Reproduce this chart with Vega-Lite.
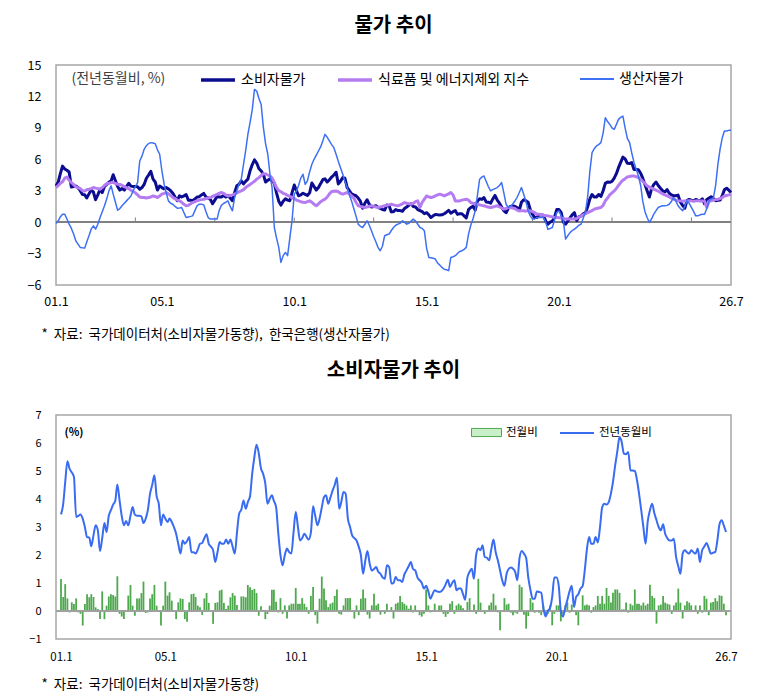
{
  "$schema": "https://vega.github.io/schema/vega-lite/v6.json",
  "background": "white",
  "padding": {"left": 26, "top": 15, "right": 10, "bottom": 5},
  "spacing": 18,
  "resolve": {"scale": {"stroke": "independent"}, "legend": {"stroke": "independent"}},
  "config": {
    "font": "Noto Sans CJK KR",
    "view": {"stroke": "#a6a6a6", "strokeWidth": 1.5},
    "axis": {"grid": false, "ticks": false, "domain": false, "labelColor": "#000", "labelFont": "Noto Sans CJK KR", "titleFont": "Noto Sans CJK KR", "titleColor": "#000", "labelOverlap": false},
    "title": {"fontSize": 20, "fontWeight": "bold", "color": "#000", "anchor": "middle", "font": "Noto Sans CJK KR"},
    "legend": {"padding": 0, "labelColor": "#000", "labelFont": "Noto Sans CJK KR", "labelLimit": 400}
  },
  "datasets": {
    "prices": [
      {"t":"2001-01","cpi":3.45,"core":3.3,"ppi":-0.13,"mom":1.14},
      {"t":"2001-02","cpi":3.83,"core":3.5,"ppi":0.13,"mom":0.5},
      {"t":"2001-03","cpi":4.6,"core":3.7,"ppi":0.5,"mom":0.96},
      {"t":"2001-04","cpi":5.35,"core":3.85,"ppi":0.76,"mom":0.45},
      {"t":"2001-05","cpi":5.08,"core":4.2,"ppi":0.76,"mom":-0.05},
      {"t":"2001-06","cpi":4.95,"core":4.3,"ppi":0.3,"mom":0.31},
      {"t":"2001-07","cpi":4.79,"core":4.0,"ppi":-0.19,"mom":0.25},
      {"t":"2001-08","cpi":3.36,"core":3.78,"ppi":-0.6,"mom":0.45},
      {"t":"2001-09","cpi":3.4,"core":3.6,"ppi":-1.14,"mom":-0.05},
      {"t":"2001-10","cpi":3.45,"core":3.37,"ppi":-1.78,"mom":-0.1},
      {"t":"2001-11","cpi":3.3,"core":3.3,"ppi":-2.1,"mom":-0.52},
      {"t":"2001-12","cpi":3.0,"core":3.2,"ppi":-2.41,"mom":0.25},
      {"t":"2002-01","cpi":2.64,"core":3.0,"ppi":-2.45,"mom":0.6},
      {"t":"2002-02","cpi":2.62,"core":2.98,"ppi":-2.48,"mom":0.49},
      {"t":"2002-03","cpi":2.31,"core":3.1,"ppi":-1.9,"mom":0.6},
      {"t":"2002-04","cpi":2.7,"core":3.14,"ppi":-1.3,"mom":0.5},
      {"t":"2002-05","cpi":3.06,"core":3.2,"ppi":-0.67,"mom":0.13},
      {"t":"2002-06","cpi":2.88,"core":3.3,"ppi":-0.35,"mom":0.07},
      {"t":"2002-07","cpi":2.14,"core":3.25,"ppi":-0.67,"mom":-0.29},
      {"t":"2002-08","cpi":2.6,"core":3.2,"ppi":-0.2,"mom":0.7},
      {"t":"2002-09","cpi":3.14,"core":3.14,"ppi":0.44,"mom":-0.29},
      {"t":"2002-10","cpi":2.82,"core":3.3,"ppi":1.0,"mom":0.19},
      {"t":"2002-11","cpi":3.4,"core":3.5,"ppi":1.56,"mom":0.52},
      {"t":"2002-12","cpi":3.6,"core":3.68,"ppi":2.2,"mom":0.6},
      {"t":"2003-01","cpi":3.8,"core":3.7,"ppi":2.98,"mom":0.57},
      {"t":"2003-02","cpi":3.95,"core":3.78,"ppi":3.46,"mom":0.52},
      {"t":"2003-03","cpi":4.52,"core":3.78,"ppi":2.67,"mom":1.24},
      {"t":"2003-04","cpi":3.95,"core":3.7,"ppi":1.9,"mom":-0.1},
      {"t":"2003-05","cpi":3.4,"core":3.62,"ppi":1.14,"mom":-0.2},
      {"t":"2003-06","cpi":3.06,"core":3.6,"ppi":1.3,"mom":-0.29},
      {"t":"2003-07","cpi":3.21,"core":3.5,"ppi":1.56,"mom":-0.02},
      {"t":"2003-08","cpi":3.06,"core":3.4,"ppi":1.8,"mom":0.55},
      {"t":"2003-09","cpi":3.4,"core":3.3,"ppi":2.03,"mom":0.93},
      {"t":"2003-10","cpi":3.71,"core":3.2,"ppi":2.25,"mom":0.19},
      {"t":"2003-11","cpi":3.44,"core":3.05,"ppi":2.5,"mom":-0.17},
      {"t":"2003-12","cpi":3.4,"core":2.92,"ppi":3.0,"mom":0.45},
      {"t":"2004-01","cpi":3.4,"core":2.8,"ppi":3.4,"mom":0.45},
      {"t":"2004-02","cpi":3.38,"core":2.6,"ppi":3.78,"mom":0.64},
      {"t":"2004-03","cpi":3.14,"core":2.4,"ppi":5.84,"mom":1.05},
      {"t":"2004-04","cpi":3.3,"core":2.35,"ppi":6.3,"mom":-0.07},
      {"t":"2004-05","cpi":3.6,"core":2.35,"ppi":6.95,"mom":-0.05},
      {"t":"2004-06","cpi":4.19,"core":2.3,"ppi":7.3,"mom":0.45},
      {"t":"2004-07","cpi":4.5,"core":2.35,"ppi":7.5,"mom":0.6},
      {"t":"2004-08","cpi":4.85,"core":2.4,"ppi":7.59,"mom":0.93},
      {"t":"2004-09","cpi":4.1,"core":2.5,"ppi":7.55,"mom":0.19},
      {"t":"2004-10","cpi":3.83,"core":2.45,"ppi":7.49,"mom":0.01},
      {"t":"2004-11","cpi":3.06,"core":2.35,"ppi":6.9,"mom":-0.52},
      {"t":"2004-12","cpi":3.45,"core":2.5,"ppi":6.48,"mom":0.19},
      {"t":"2005-01","cpi":3.3,"core":2.67,"ppi":4.89,"mom":1.05},
      {"t":"2005-02","cpi":3.18,"core":2.75,"ppi":3.62,"mom":0.55},
      {"t":"2005-03","cpi":3.3,"core":2.83,"ppi":2.8,"mom":0.67},
      {"t":"2005-04","cpi":3.18,"core":2.7,"ppi":2.03,"mom":0.37},
      {"t":"2005-05","cpi":3.0,"core":2.55,"ppi":1.8,"mom":-0.02},
      {"t":"2005-06","cpi":2.76,"core":2.35,"ppi":1.71,"mom":-0.29},
      {"t":"2005-07","cpi":2.4,"core":2.25,"ppi":1.5,"mom":0.31},
      {"t":"2005-08","cpi":2.05,"core":2.1,"ppi":1.33,"mom":0.45},
      {"t":"2005-09","cpi":2.52,"core":2.03,"ppi":1.35,"mom":0.43},
      {"t":"2005-10","cpi":2.4,"core":1.9,"ppi":1.4,"mom":-0.29},
      {"t":"2005-11","cpi":2.5,"core":1.7,"ppi":0.9,"mom":-0.38},
      {"t":"2005-12","cpi":2.64,"core":1.56,"ppi":0.44,"mom":0.31},
      {"t":"2006-01","cpi":2.1,"core":1.6,"ppi":0.5,"mom":0.6},
      {"t":"2006-02","cpi":2.1,"core":1.75,"ppi":0.55,"mom":0.62},
      {"t":"2006-03","cpi":2.05,"core":1.87,"ppi":0.6,"mom":0.5},
      {"t":"2006-04","cpi":2.2,"core":1.95,"ppi":1.1,"mom":0.19},
      {"t":"2006-05","cpi":2.4,"core":2.03,"ppi":1.56,"mom":0.13},
      {"t":"2006-06","cpi":2.43,"core":2.1,"ppi":1.71,"mom":-0.14},
      {"t":"2006-07","cpi":2.6,"core":2.15,"ppi":1.7,"mom":0.45},
      {"t":"2006-08","cpi":2.74,"core":2.19,"ppi":1.65,"mom":0.64},
      {"t":"2006-09","cpi":2.4,"core":2.25,"ppi":1.0,"mom":0.29},
      {"t":"2006-10","cpi":2.3,"core":2.3,"ppi":0.44,"mom":-0.02},
      {"t":"2006-11","cpi":2.17,"core":2.35,"ppi":0.29,"mom":-0.46},
      {"t":"2006-12","cpi":1.75,"core":2.45,"ppi":0.29,"mom":0.29},
      {"t":"2007-01","cpi":2.1,"core":2.55,"ppi":0.29,"mom":0.31},
      {"t":"2007-02","cpi":2.46,"core":2.65,"ppi":0.29,"mom":0.73},
      {"t":"2007-03","cpi":2.4,"core":2.75,"ppi":1.08,"mom":0.76},
      {"t":"2007-04","cpi":2.4,"core":2.83,"ppi":1.6,"mom":0.29},
      {"t":"2007-05","cpi":2.55,"core":2.75,"ppi":1.78,"mom":0.07},
      {"t":"2007-06","cpi":2.4,"core":2.6,"ppi":1.9,"mom":0.19},
      {"t":"2007-07","cpi":2.55,"core":2.5,"ppi":2.03,"mom":0.49},
      {"t":"2007-08","cpi":2.3,"core":2.55,"ppi":1.5,"mom":0.64},
      {"t":"2007-09","cpi":2.05,"core":2.6,"ppi":1.08,"mom":0.55},
      {"t":"2007-10","cpi":2.8,"core":2.67,"ppi":2.35,"mom":0.21},
      {"t":"2007-11","cpi":3.48,"core":2.8,"ppi":3.0,"mom":0.01},
      {"t":"2007-12","cpi":3.62,"core":2.9,"ppi":3.62,"mom":0.52},
      {"t":"2008-01","cpi":3.95,"core":2.98,"ppi":4.1,"mom":0.52},
      {"t":"2008-02","cpi":3.65,"core":3.1,"ppi":5.52,"mom":0.49},
      {"t":"2008-03","cpi":3.89,"core":3.3,"ppi":6.8,"mom":0.93},
      {"t":"2008-04","cpi":4.1,"core":3.46,"ppi":8.38,"mom":0.85},
      {"t":"2008-05","cpi":4.9,"core":3.6,"ppi":9.5,"mom":0.75},
      {"t":"2008-06","cpi":5.5,"core":3.75,"ppi":10.76,"mom":0.79},
      {"t":"2008-07","cpi":5.94,"core":3.9,"ppi":12.67,"mom":0.64},
      {"t":"2008-08","cpi":5.64,"core":4.1,"ppi":12.51,"mom":-0.17},
      {"t":"2008-09","cpi":5.1,"core":4.25,"ppi":11.8,"mom":0.17},
      {"t":"2008-10","cpi":4.9,"core":4.45,"ppi":11.24,"mom":-0.02},
      {"t":"2008-11","cpi":4.55,"core":4.63,"ppi":9.02,"mom":-0.29},
      {"t":"2008-12","cpi":3.83,"core":4.6,"ppi":7.5,"mom":-0.11},
      {"t":"2009-01","cpi":4.0,"core":4.5,"ppi":6.48,"mom":0.19},
      {"t":"2009-02","cpi":4.13,"core":4.4,"ppi":4.5,"mom":0.76},
      {"t":"2009-03","cpi":3.93,"core":4.2,"ppi":3.3,"mom":0.76},
      {"t":"2009-04","cpi":3.71,"core":3.78,"ppi":-0.51,"mom":0.33},
      {"t":"2009-05","cpi":2.8,"core":3.3,"ppi":-1.5,"mom":-0.05},
      {"t":"2009-06","cpi":2.0,"core":3.0,"ppi":-2.41,"mom":0.46},
      {"t":"2009-07","cpi":1.63,"core":2.9,"ppi":-3.84,"mom":-0.1},
      {"t":"2009-08","cpi":2.0,"core":2.75,"ppi":-3.2,"mom":0.2},
      {"t":"2009-09","cpi":2.23,"core":2.67,"ppi":-2.89,"mom":-0.27},
      {"t":"2009-10","cpi":2.1,"core":2.55,"ppi":-3.2,"mom":0.2},
      {"t":"2009-11","cpi":2.05,"core":2.45,"ppi":-1.5,"mom":0.26},
      {"t":"2009-12","cpi":2.8,"core":2.35,"ppi":0.13,"mom":0.26},
      {"t":"2010-01","cpi":3.54,"core":2.25,"ppi":2.67,"mom":0.82},
      {"t":"2010-02","cpi":3.0,"core":2.1,"ppi":2.98,"mom":0.26},
      {"t":"2010-03","cpi":2.52,"core":2.03,"ppi":3.5,"mom":0.26},
      {"t":"2010-04","cpi":2.6,"core":1.95,"ppi":4.2,"mom":0.46},
      {"t":"2010-05","cpi":2.76,"core":1.9,"ppi":4.57,"mom":0.26},
      {"t":"2010-06","cpi":2.65,"core":1.87,"ppi":3.62,"mom":0.14},
      {"t":"2010-07","cpi":2.55,"core":1.95,"ppi":3.94,"mom":-0.1},
      {"t":"2010-08","cpi":2.8,"core":2.03,"ppi":4.8,"mom":0.54},
      {"t":"2010-09","cpi":3.74,"core":1.9,"ppi":5.52,"mom":0.86},
      {"t":"2010-10","cpi":3.4,"core":1.7,"ppi":6.0,"mom":-0.15},
      {"t":"2010-11","cpi":3.06,"core":1.56,"ppi":6.4,"mom":-0.45},
      {"t":"2010-12","cpi":3.3,"core":1.75,"ppi":6.79,"mom":0.44},
      {"t":"2011-01","cpi":3.7,"core":1.95,"ppi":7.2,"mom":1.23},
      {"t":"2011-02","cpi":4.07,"core":2.1,"ppi":7.8,"mom":0.8},
      {"t":"2011-03","cpi":4.13,"core":2.19,"ppi":8.38,"mom":0.38},
      {"t":"2011-04","cpi":3.83,"core":2.4,"ppi":8.1,"mom":0.14},
      {"t":"2011-05","cpi":4.05,"core":2.7,"ppi":7.75,"mom":0.26},
      {"t":"2011-06","cpi":4.3,"core":2.92,"ppi":7.4,"mom":0.3},
      {"t":"2011-07","cpi":4.5,"core":2.95,"ppi":7.11,"mom":0.54},
      {"t":"2011-08","cpi":4.76,"core":2.98,"ppi":6.48,"mom":0.77},
      {"t":"2011-09","cpi":3.65,"core":2.9,"ppi":5.8,"mom":-0.1},
      {"t":"2011-10","cpi":3.9,"core":2.75,"ppi":5.2,"mom":-0.13},
      {"t":"2011-11","cpi":4.25,"core":2.67,"ppi":4.57,"mom":0.2},
      {"t":"2011-12","cpi":4.19,"core":2.75,"ppi":3.9,"mom":0.46},
      {"t":"2012-01","cpi":3.3,"core":2.83,"ppi":3.3,"mom":0.46},
      {"t":"2012-02","cpi":3.0,"core":2.7,"ppi":2.6,"mom":0.46},
      {"t":"2012-03","cpi":2.7,"core":2.5,"ppi":2.03,"mom":0.0},
      {"t":"2012-04","cpi":2.6,"core":2.3,"ppi":1.3,"mom":-0.27},
      {"t":"2012-05","cpi":2.52,"core":1.9,"ppi":0.6,"mom":0.2},
      {"t":"2012-06","cpi":2.3,"core":1.56,"ppi":-0.19,"mom":-0.15},
      {"t":"2012-07","cpi":2.0,"core":1.5,"ppi":-0.4,"mom":0.44},
      {"t":"2012-08","cpi":1.33,"core":1.45,"ppi":-0.51,"mom":0.77},
      {"t":"2012-09","cpi":1.8,"core":1.4,"ppi":-0.2,"mom":0.46},
      {"t":"2012-10","cpi":2.14,"core":1.45,"ppi":0.13,"mom":-0.13},
      {"t":"2012-11","cpi":1.7,"core":1.5,"ppi":-0.3,"mom":-0.27},
      {"t":"2012-12","cpi":1.45,"core":1.56,"ppi":-0.83,"mom":0.2},
      {"t":"2013-01","cpi":1.5,"core":1.5,"ppi":-1.4,"mom":0.62},
      {"t":"2013-02","cpi":1.57,"core":1.45,"ppi":-1.9,"mom":0.2},
      {"t":"2013-03","cpi":1.4,"core":1.4,"ppi":-2.41,"mom":0.26},
      {"t":"2013-04","cpi":1.33,"core":1.45,"ppi":-2.73,"mom":-0.13},
      {"t":"2013-05","cpi":1.2,"core":1.5,"ppi":-2.3,"mom":0.0},
      {"t":"2013-06","cpi":1.15,"core":1.56,"ppi":-1.3,"mom":-0.1},
      {"t":"2013-07","cpi":1.63,"core":1.6,"ppi":-1.2,"mom":0.26},
      {"t":"2013-08","cpi":1.57,"core":1.65,"ppi":-1.14,"mom":0.0},
      {"t":"2013-09","cpi":0.98,"core":1.71,"ppi":-0.8,"mom":0.14},
      {"t":"2013-10","cpi":1.0,"core":1.65,"ppi":-0.51,"mom":-0.27},
      {"t":"2013-11","cpi":1.21,"core":1.6,"ppi":-0.3,"mom":0.26},
      {"t":"2013-12","cpi":1.1,"core":1.56,"ppi":-0.19,"mom":0.3},
      {"t":"2014-01","cpi":1.1,"core":1.65,"ppi":-0.1,"mom":0.54},
      {"t":"2014-02","cpi":1.04,"core":1.75,"ppi":0.13,"mom":0.32},
      {"t":"2014-03","cpi":1.3,"core":1.87,"ppi":0.0,"mom":0.26},
      {"t":"2014-04","cpi":1.45,"core":1.8,"ppi":-0.19,"mom":0.2},
      {"t":"2014-05","cpi":1.6,"core":1.75,"ppi":-0.1,"mom":0.08},
      {"t":"2014-06","cpi":1.75,"core":1.71,"ppi":0.1,"mom":0.2},
      {"t":"2014-07","cpi":1.5,"core":1.8,"ppi":0.29,"mom":-0.05},
      {"t":"2014-08","cpi":1.45,"core":1.95,"ppi":0.1,"mom":0.2},
      {"t":"2014-09","cpi":1.2,"core":2.03,"ppi":-0.2,"mom":0.0},
      {"t":"2014-10","cpi":1.1,"core":1.4,"ppi":-0.51,"mom":-0.15},
      {"t":"2014-11","cpi":1.0,"core":1.9,"ppi":-0.6,"mom":-0.2},
      {"t":"2014-12","cpi":0.8,"core":2.2,"ppi":-0.83,"mom":-0.1},
      {"t":"2015-01","cpi":0.9,"core":2.5,"ppi":-2.5,"mom":0.77},
      {"t":"2015-02","cpi":0.7,"core":2.4,"ppi":-3.37,"mom":0.2},
      {"t":"2015-03","cpi":0.44,"core":2.35,"ppi":-3.4,"mom":-0.05},
      {"t":"2015-04","cpi":0.6,"core":2.4,"ppi":-3.45,"mom":0.0},
      {"t":"2015-05","cpi":0.74,"core":2.5,"ppi":-3.52,"mom":0.26},
      {"t":"2015-06","cpi":0.7,"core":2.6,"ppi":-3.9,"mom":0.0},
      {"t":"2015-07","cpi":0.68,"core":2.67,"ppi":-4.1,"mom":0.2},
      {"t":"2015-08","cpi":0.7,"core":2.6,"ppi":-4.32,"mom":0.2},
      {"t":"2015-09","cpi":0.8,"core":2.5,"ppi":-4.5,"mom":-0.1},
      {"t":"2015-10","cpi":0.95,"core":2.6,"ppi":-4.55,"mom":-0.21},
      {"t":"2015-11","cpi":1.12,"core":2.7,"ppi":-4.63,"mom":-0.1},
      {"t":"2015-12","cpi":0.86,"core":2.83,"ppi":-3.37,"mom":0.26},
      {"t":"2016-01","cpi":1.0,"core":2.6,"ppi":-3.3,"mom":0.35},
      {"t":"2016-02","cpi":1.1,"core":2.03,"ppi":-3.2,"mom":-0.1},
      {"t":"2016-03","cpi":0.74,"core":2.03,"ppi":-3.0,"mom":0.2},
      {"t":"2016-04","cpi":0.8,"core":2.03,"ppi":-2.8,"mom":0.26},
      {"t":"2016-05","cpi":0.8,"core":2.1,"ppi":-2.73,"mom":0.2},
      {"t":"2016-06","cpi":0.6,"core":2.15,"ppi":-2.6,"mom":0.1},
      {"t":"2016-07","cpi":0.4,"core":2.19,"ppi":-2.41,"mom":0.0},
      {"t":"2016-08","cpi":1.2,"core":2.1,"ppi":-1.14,"mom":0.32},
      {"t":"2016-09","cpi":1.4,"core":1.87,"ppi":-0.3,"mom":0.46},
      {"t":"2016-10","cpi":1.51,"core":1.8,"ppi":0.3,"mom":0.0},
      {"t":"2016-11","cpi":1.15,"core":1.75,"ppi":1.08,"mom":0.23},
      {"t":"2016-12","cpi":2.0,"core":1.71,"ppi":2.5,"mom":-0.1},
      {"t":"2017-01","cpi":2.23,"core":1.65,"ppi":4.1,"mom":1.15},
      {"t":"2017-02","cpi":2.17,"core":1.6,"ppi":4.3,"mom":0.3},
      {"t":"2017-03","cpi":2.35,"core":1.56,"ppi":4.41,"mom":0.0},
      {"t":"2017-04","cpi":1.93,"core":1.5,"ppi":3.9,"mom":-0.1},
      {"t":"2017-05","cpi":1.9,"core":1.45,"ppi":3.4,"mom":0.0},
      {"t":"2017-06","cpi":1.81,"core":1.4,"ppi":2.98,"mom":0.2},
      {"t":"2017-07","cpi":2.2,"core":1.45,"ppi":3.1,"mom":0.3},
      {"t":"2017-08","cpi":2.55,"core":1.5,"ppi":3.2,"mom":0.62},
      {"t":"2017-09","cpi":2.1,"core":1.56,"ppi":3.3,"mom":0.2},
      {"t":"2017-10","cpi":1.81,"core":1.45,"ppi":3.5,"mom":-0.05},
      {"t":"2017-11","cpi":1.45,"core":1.35,"ppi":3.78,"mom":-0.69},
      {"t":"2017-12","cpi":1.1,"core":1.24,"ppi":2.8,"mom":0.0},
      {"t":"2018-01","cpi":0.9,"core":1.3,"ppi":1.71,"mom":0.46},
      {"t":"2018-02","cpi":1.33,"core":1.4,"ppi":1.4,"mom":0.23},
      {"t":"2018-03","cpi":1.5,"core":1.4,"ppi":1.5,"mom":0.26},
      {"t":"2018-04","cpi":1.55,"core":1.35,"ppi":1.71,"mom":-0.06},
      {"t":"2018-05","cpi":1.51,"core":1.3,"ppi":2.0,"mom":-0.15},
      {"t":"2018-06","cpi":1.4,"core":1.15,"ppi":2.35,"mom":-0.06},
      {"t":"2018-07","cpi":1.1,"core":1.08,"ppi":2.8,"mom":-0.1},
      {"t":"2018-08","cpi":1.9,"core":1.1,"ppi":3.3,"mom":0.94},
      {"t":"2018-09","cpi":2.14,"core":1.08,"ppi":2.67,"mom":0.85},
      {"t":"2018-10","cpi":2.05,"core":1.05,"ppi":2.0,"mom":-0.13},
      {"t":"2018-11","cpi":1.9,"core":1.1,"ppi":1.08,"mom":-0.63},
      {"t":"2018-12","cpi":1.2,"core":1.08,"ppi":0.6,"mom":-0.18},
      {"t":"2019-01","cpi":0.75,"core":1.0,"ppi":0.29,"mom":0.46},
      {"t":"2019-02","cpi":0.44,"core":0.9,"ppi":0.3,"mom":0.3},
      {"t":"2019-03","cpi":0.44,"core":0.76,"ppi":0.44,"mom":-0.06},
      {"t":"2019-04","cpi":0.7,"core":0.76,"ppi":0.44,"mom":0.0},
      {"t":"2019-05","cpi":0.68,"core":0.7,"ppi":0.44,"mom":-0.06},
      {"t":"2019-06","cpi":0.65,"core":0.65,"ppi":0.44,"mom":-0.15},
      {"t":"2019-07","cpi":0.1,"core":0.6,"ppi":0.0,"mom":0.2},
      {"t":"2019-08","cpi":-0.2,"core":0.6,"ppi":-0.67,"mom":-0.18},
      {"t":"2019-09","cpi":0.0,"core":0.55,"ppi":-0.6,"mom":-0.1},
      {"t":"2019-10","cpi":0.1,"core":0.5,"ppi":-0.51,"mom":0.2},
      {"t":"2019-11","cpi":0.5,"core":0.45,"ppi":0.2,"mom":-0.51},
      {"t":"2019-12","cpi":1.2,"core":0.44,"ppi":0.92,"mom":-0.1},
      {"t":"2020-01","cpi":1.2,"core":0.42,"ppi":1.08,"mom":0.2},
      {"t":"2020-02","cpi":0.9,"core":0.4,"ppi":0.6,"mom":0.2},
      {"t":"2020-03","cpi":0.0,"core":0.35,"ppi":0.13,"mom":-0.37},
      {"t":"2020-04","cpi":-0.2,"core":0.3,"ppi":-1.62,"mom":-0.1},
      {"t":"2020-05","cpi":0.1,"core":0.29,"ppi":-1.3,"mom":0.2},
      {"t":"2020-06","cpi":0.4,"core":0.29,"ppi":-1.0,"mom":0.3},
      {"t":"2020-07","cpi":0.7,"core":0.3,"ppi":-0.8,"mom":-0.06},
      {"t":"2020-08","cpi":0.9,"core":0.29,"ppi":-0.67,"mom":0.23},
      {"t":"2020-09","cpi":0.14,"core":0.35,"ppi":-0.5,"mom":-0.03},
      {"t":"2020-10","cpi":0.5,"core":0.45,"ppi":-0.3,"mom":-0.15},
      {"t":"2020-11","cpi":0.6,"core":0.6,"ppi":-0.19,"mom":-0.51},
      {"t":"2020-12","cpi":0.8,"core":0.7,"ppi":0.4,"mom":0.0},
      {"t":"2021-01","cpi":0.9,"core":0.8,"ppi":1.0,"mom":0.56},
      {"t":"2021-02","cpi":1.5,"core":0.92,"ppi":2.5,"mom":0.2},
      {"t":"2021-03","cpi":2.2,"core":1.0,"ppi":4.8,"mom":0.23},
      {"t":"2021-04","cpi":2.64,"core":1.1,"ppi":6.63,"mom":0.2},
      {"t":"2021-05","cpi":2.4,"core":1.24,"ppi":7.0,"mom":-0.06},
      {"t":"2021-06","cpi":2.4,"core":1.3,"ppi":7.27,"mom":0.14},
      {"t":"2021-07","cpi":2.64,"core":1.35,"ppi":7.4,"mom":0.2},
      {"t":"2021-08","cpi":2.45,"core":1.4,"ppi":7.59,"mom":0.54},
      {"t":"2021-09","cpi":3.0,"core":1.6,"ppi":8.5,"mom":0.26},
      {"t":"2021-10","cpi":3.7,"core":2.03,"ppi":9.97,"mom":0.54},
      {"t":"2021-11","cpi":3.83,"core":2.3,"ppi":9.6,"mom":0.26},
      {"t":"2021-12","cpi":3.8,"core":2.6,"ppi":9.33,"mom":0.82},
      {"t":"2022-01","cpi":3.89,"core":2.8,"ppi":9.0,"mom":0.54},
      {"t":"2022-02","cpi":4.2,"core":2.98,"ppi":8.86,"mom":0.3},
      {"t":"2022-03","cpi":4.6,"core":3.2,"ppi":9.3,"mom":0.65},
      {"t":"2022-04","cpi":5.2,"core":3.5,"ppi":9.81,"mom":0.77},
      {"t":"2022-05","cpi":5.7,"core":3.78,"ppi":10.0,"mom":0.77},
      {"t":"2022-06","cpi":6.21,"core":4.0,"ppi":10.13,"mom":0.65},
      {"t":"2022-07","cpi":6.04,"core":4.15,"ppi":9.0,"mom":0.06},
      {"t":"2022-08","cpi":5.62,"core":4.32,"ppi":8.0,"mom":0.06},
      {"t":"2022-09","cpi":5.6,"core":4.35,"ppi":7.59,"mom":0.3},
      {"t":"2022-10","cpi":5.68,"core":4.4,"ppi":6.6,"mom":-0.06},
      {"t":"2022-11","cpi":5.02,"core":4.41,"ppi":5.7,"mom":0.26},
      {"t":"2022-12","cpi":5.02,"core":4.35,"ppi":5.05,"mom":0.2},
      {"t":"2023-01","cpi":5.0,"core":4.25,"ppi":4.4,"mom":0.77},
      {"t":"2023-02","cpi":4.67,"core":4.1,"ppi":3.5,"mom":0.26},
      {"t":"2023-03","cpi":4.2,"core":3.9,"ppi":2.03,"mom":0.26},
      {"t":"2023-04","cpi":3.6,"core":3.7,"ppi":1.0,"mom":0.2},
      {"t":"2023-05","cpi":3.0,"core":3.46,"ppi":0.44,"mom":0.3},
      {"t":"2023-06","cpi":2.4,"core":3.35,"ppi":-0.03,"mom":0.2},
      {"t":"2023-07","cpi":3.2,"core":3.25,"ppi":0.3,"mom":0.26},
      {"t":"2023-08","cpi":3.6,"core":3.14,"ppi":0.76,"mom":0.94},
      {"t":"2023-09","cpi":3.83,"core":3.05,"ppi":1.1,"mom":0.54},
      {"t":"2023-10","cpi":3.5,"core":2.95,"ppi":1.4,"mom":0.46},
      {"t":"2023-11","cpi":3.24,"core":2.83,"ppi":1.5,"mom":-0.45},
      {"t":"2023-12","cpi":3.0,"core":2.7,"ppi":1.56,"mom":0.2},
      {"t":"2024-01","cpi":2.88,"core":2.6,"ppi":1.56,"mom":0.23},
      {"t":"2024-02","cpi":3.1,"core":2.5,"ppi":1.6,"mom":0.54},
      {"t":"2024-03","cpi":2.76,"core":2.4,"ppi":1.71,"mom":0.3},
      {"t":"2024-04","cpi":2.6,"core":2.3,"ppi":2.0,"mom":0.26},
      {"t":"2024-05","cpi":2.52,"core":2.19,"ppi":2.35,"mom":0.23},
      {"t":"2024-06","cpi":2.52,"core":2.1,"ppi":2.0,"mom":-0.1},
      {"t":"2024-07","cpi":2.58,"core":2.05,"ppi":1.56,"mom":0.2},
      {"t":"2024-08","cpi":1.93,"core":2.03,"ppi":1.3,"mom":0.3},
      {"t":"2024-09","cpi":1.6,"core":2.0,"ppi":1.08,"mom":0.8},
      {"t":"2024-10","cpi":1.33,"core":2.03,"ppi":1.5,"mom":0.3},
      {"t":"2024-11","cpi":2.05,"core":2.03,"ppi":2.03,"mom":-0.27},
      {"t":"2024-12","cpi":2.17,"core":2.05,"ppi":1.8,"mom":0.2},
      {"t":"2025-01","cpi":2.1,"core":2.03,"ppi":1.4,"mom":0.35},
      {"t":"2025-02","cpi":2.05,"core":2.0,"ppi":1.0,"mom":0.3},
      {"t":"2025-03","cpi":2.17,"core":2.03,"ppi":0.6,"mom":0.2},
      {"t":"2025-04","cpi":2.1,"core":2.05,"ppi":0.6,"mom":0.0},
      {"t":"2025-05","cpi":2.05,"core":2.03,"ppi":0.7,"mom":0.2},
      {"t":"2025-06","cpi":2.23,"core":2.03,"ppi":0.76,"mom":-0.1},
      {"t":"2025-07","cpi":1.75,"core":2.0,"ppi":0.76,"mom":0.2},
      {"t":"2025-08","cpi":2.17,"core":1.4,"ppi":1.3,"mom":-0.06},
      {"t":"2025-09","cpi":2.3,"core":2.0,"ppi":2.03,"mom":0.54},
      {"t":"2025-10","cpi":2.43,"core":2.03,"ppi":2.2,"mom":0.44},
      {"t":"2025-11","cpi":2.25,"core":2.1,"ppi":2.35,"mom":-0.15},
      {"t":"2025-12","cpi":2.05,"core":2.15,"ppi":3.5,"mom":0.3},
      {"t":"2026-01","cpi":2.08,"core":2.19,"ppi":5.52,"mom":0.32},
      {"t":"2026-02","cpi":2.11,"core":2.25,"ppi":7.0,"mom":0.46},
      {"t":"2026-03","cpi":2.5,"core":2.35,"ppi":8.0,"mom":0.35},
      {"t":"2026-04","cpi":3.1,"core":2.5,"ppi":8.7,"mom":0.56},
      {"t":"2026-05","cpi":3.24,"core":2.55,"ppi":8.7,"mom":0.54},
      {"t":"2026-06","cpi":3.05,"core":2.6,"ppi":8.76,"mom":0.26},
      {"t":"2026-07","cpi":2.82,"core":2.67,"ppi":8.76,"mom":-0.15}
    ]
  },
  "vconcat": [
    {
      "title": {"text": "물가 추이", "offset": 23},
      "width": 675,
      "height": 220,
      "data": {"name": "prices"},
      "layer": [
        {
          "mark": {"type": "rule", "color": "#808080", "strokeWidth": 1},
          "encoding": {"y": {"datum": 0, "type": "quantitative"}}
        },
        {
          "transform": [{"filter": "utcmonth(toDate(datum.t)) == 0 && utcyear(toDate(datum.t)) % 3 == 0 && utcyear(toDate(datum.t)) > 2001"}],
          "mark": {"type": "rule", "color": "#808080", "strokeWidth": 1},
          "encoding": {
            "x": {"field": "t", "type": "temporal"},
            "y": {"datum": 0, "type": "quantitative"},
            "y2": {"datum": 0.45}
          }
        },
        {
          "mark": {"type": "line", "strokeWidth": 3, "strokeJoin": "round"},
          "encoding": {
            "x": {
              "field": "t", "type": "temporal",
              "scale": {"type": "utc", "domain": [{"year": 2001, "month": 1, "date": 1, "utc": true}, {"year": 2026, "month": 7, "date": 1, "utc": true}]},
              "axis": {
                "values": [{"year": 2001, "month": 1, "date": 1, "utc": true}, {"year": 2005, "month": 1, "date": 1, "utc": true}, {"year": 2010, "month": 1, "date": 1, "utc": true}, {"year": 2015, "month": 1, "date": 1, "utc": true}, {"year": 2020, "month": 1, "date": 1, "utc": true}, {"year": 2026, "month": 7, "date": 1, "utc": true}],
                "tickCount": 30,
                "labelExpr": "utcFormat(datum.value, '%y.%-m')",
                "labelFontSize": 12.5, "labelPadding": 10, "labelFlush": false, "labelOverlap": false,
                "title": "*\u00a0 자료:\u00a0 국가데이터처(소비자물가동향),\u00a0 한국은행(생산자물가)",
                "titleX": -15, "titleY": 49, "titleAlign": "left", "titleBaseline": "middle",
                "titleFontSize": 13.5, "titleFontWeight": "normal"
              }
            },
            "y": {
              "field": "cpi", "type": "quantitative",
              "scale": {"domain": [-6, 15], "nice": false, "zero": false},
              "axis": {
                "values": [-6, -3, 0, 3, 6, 9, 12, 15],
                "tickCount": 20, "format": "d",
                "labelFontSize": 12.5, "labelPadding": 15, "labelOverlap": false,
                "title": "(전년동월비, %)", "titleAngle": 0, "titleX": 15, "titleY": 13,
                "titleAlign": "left", "titleBaseline": "middle",
                "titleFontSize": 14, "titleFontWeight": "normal", "titleColor": "#404040"
              }
            },
            "color": {
              "datum": "소비자물가", "type": "nominal",
              "scale": {"domain": ["소비자물가", "식료품 및 에너지제외 지수"], "range": ["#0c0c90", "#b57cf2"]},
              "legend": {
                "title": null, "orient": "none", "legendX": 143, "legendY": -4, "direction": "horizontal",
                "symbolType": "stroke", "symbolSize": 1156, "symbolStrokeWidth": 3.5,
                "labelFontSize": 14, "labelOffset": 4, "columnPadding": 25
              }
            }
          }
        },
        {
          "mark": {"type": "line", "strokeWidth": 3, "strokeJoin": "round"},
          "encoding": {
            "x": {"field": "t", "type": "temporal"},
            "y": {"field": "core", "type": "quantitative"},
            "color": {"datum": "식료품 및 에너지제외 지수", "type": "nominal"}
          }
        },
        {
          "mark": {"type": "line", "strokeWidth": 1.5, "strokeJoin": "round"},
          "encoding": {
            "x": {"field": "t", "type": "temporal"},
            "y": {"field": "ppi", "type": "quantitative"},
            "stroke": {
              "datum": "생산자물가", "type": "nominal",
              "scale": {"range": ["#3e70f5"]},
              "legend": {
                "title": null, "orient": "none", "legendX": 523, "legendY": -4,
                "symbolType": "stroke", "symbolSize": 1156, "symbolStrokeWidth": 1.8,
                "labelFontSize": 14, "labelOffset": 4
              }
            }
          }
        }
      ]
    },
    {
      "title": {"text": "소비자물가 추이", "offset": 28},
      "width": 675,
      "height": 224,
      "data": {"name": "prices"},
      "layer": [
        {
          "mark": {"type": "bar", "size": 1.8, "color": "#4ea84e"},
          "encoding": {
            "x": {
              "field": "t", "type": "temporal",
              "scale": {"type": "utc", "domain": [{"year": 2001, "month": 1, "date": 1, "utc": true}, {"year": 2026, "month": 7, "date": 1, "utc": true}]},
              "axis": {
                "values": [{"year": 2001, "month": 1, "date": 1, "utc": true}, {"year": 2005, "month": 1, "date": 1, "utc": true}, {"year": 2010, "month": 1, "date": 1, "utc": true}, {"year": 2015, "month": 1, "date": 1, "utc": true}, {"year": 2020, "month": 1, "date": 1, "utc": true}, {"year": 2026, "month": 7, "date": 1, "utc": true}],
                "tickCount": 30,
                "labelExpr": "utcFormat(datum.value, '%y.%-m')",
                "labelFontSize": 11.5, "labelPadding": 12, "labelFlush": false, "labelOverlap": false,
                "title": "*\u00a0 자료:\u00a0 국가데이터처(소비자물가동향)",
                "titleX": -15, "titleY": 45, "titleAlign": "left", "titleBaseline": "middle",
                "titleFontSize": 13.5, "titleFontWeight": "normal"
              }
            },
            "y": {
              "field": "mom", "type": "quantitative",
              "scale": {"domain": [-1, 7], "nice": false, "zero": false},
              "axis": {
                "values": [-1, 0, 1, 2, 3, 4, 5, 6, 7],
                "tickCount": 20, "format": "d",
                "labelFontSize": 11, "labelPadding": 15, "labelOverlap": false,
                "title": "(%)", "titleAngle": 0, "titleX": 8, "titleY": 17,
                "titleAlign": "left", "titleBaseline": "middle",
                "titleFontSize": 11, "titleFontWeight": "bold"
              }
            }
          }
        },
        {
          "transform": [{"filter": "false"}],
          "mark": {"type": "bar", "stroke": "#4ea84e", "strokeWidth": 1},
          "encoding": {
            "x": {"field": "t", "type": "temporal"},
            "y": {"field": "mom", "type": "quantitative"},
            "fill": {
              "datum": "전월비", "type": "nominal",
              "scale": {"range": ["#c9efc9"]},
              "legend": {
                "title": null, "orient": "none", "legendX": 415, "legendY": 352,
                "symbolType": "M-1,-0.27H1V0.27H-1Z", "symbolSize": 900,
                "symbolStrokeColor": "#4ea84e", "symbolStrokeWidth": 1,
                "labelFontSize": 11.5, "labelOffset": 4
              }
            }
          }
        },
        {
          "mark": {"type": "rule", "color": "#a0a0a0", "strokeWidth": 1.5},
          "encoding": {"y": {"datum": 0, "type": "quantitative"}}
        },
        {
          "mark": {"type": "line", "interpolate": "monotone", "strokeWidth": 2},
          "encoding": {
            "x": {"field": "t", "type": "temporal"},
            "y": {"field": "cpi", "type": "quantitative"},
            "stroke": {
              "datum": "전년동월비", "type": "nominal",
              "scale": {"range": ["#3a6cf2"]},
              "legend": {
                "title": null, "orient": "none", "legendX": 503, "legendY": 0,
                "symbolType": "stroke", "symbolSize": 1156, "symbolStrokeWidth": 1.8,
                "labelFontSize": 11.5, "labelOffset": 4
              }
            }
          }
        }
      ]
    }
  ]
}
